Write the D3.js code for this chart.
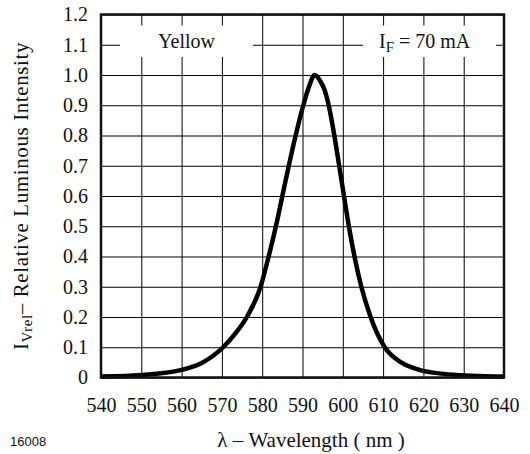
<!DOCTYPE html>
<html>
<head>
<meta charset="utf-8">
<script src="https://cdn.jsdelivr.net/npm/d3@7"></script>
<style>
  body { margin: 0; background: #fff; }
  svg { display: block; }
  .grid line { stroke: #000; stroke-width: 1; }
  .grid .domain { display: none; }
</style>
</head>
<body>
<div id="chart"></div>
<script>
// values
const wavelengths = [540, 550, 560, 565, 570.3, 573.6, 576.2, 579.6, 581.6, 583.4, 585.0, 586.6, 588.3, 590.2, 591.7, 593, 594.4, 595.5, 596.5, 597.9, 599.1, 600.3, 601.5, 602.9, 604.6, 606.9, 610.4, 614.5, 619, 625, 632, 640];
const intensity   = [0.003, 0.008, 0.025, 0.048, 0.10, 0.15, 0.20, 0.30, 0.40, 0.50, 0.60, 0.70, 0.80, 0.90, 0.965, 1.0, 0.98, 0.95, 0.90, 0.80, 0.70, 0.60, 0.50, 0.40, 0.30, 0.20, 0.10, 0.05, 0.025, 0.012, 0.006, 0.003];
const xTicks = [540, 550, 560, 570, 580, 590, 600, 610, 620, 630, 640];
const yTicks = [0, 0.1, 0.2, 0.3, 0.4, 0.5, 0.6, 0.7, 0.8, 0.9, 1.0, 1.1, 1.2];

const serif = "Liberation Serif, Times New Roman, serif";

let width = 530,
    height = 454,
    margin = ({ top: 14.5, right: 26, bottom: 76.5, left: 101 });

const svg = d3.select("#chart")
  .append("svg")
  .attr("width", width)
  .attr("height", height)
  .attr("font-family", serif);

let x = d3.scaleLinear()
  .domain([540, 640])
  .range([margin.left, width - margin.right]);

let y = d3.scaleLinear()
  .domain([0, 1.2])
  .range([height - margin.bottom, margin.top]);

const plotW = x.range()[1] - x.range()[0],
      plotH = y.range()[0] - y.range()[1];

// grid lines drawn as long negative ticks
const gx = svg.append("g")
  .attr("class", "grid")
  .attr("transform", `translate(0,${y(0)})`)
  .call(d3.axisBottom(x).tickValues(xTicks).tickFormat(d3.format("d"))
    .tickSize(-plotH).tickPadding(20));

const gy = svg.append("g")
  .attr("class", "grid")
  .attr("transform", `translate(${x(540)},0)`)
  .call(d3.axisLeft(y).tickValues(yTicks)
    .tickFormat(d => d === 0 ? "0" : d3.format(".1f")(d))
    .tickSize(-plotW).tickPadding(13));

// d3 puts sans-serif on the axis group, swap it for the serif face
[gx, gy].forEach(g => {
  g.attr("font-family", serif).attr("font-size", 20);
  g.selectAll("text").attr("fill", "#111");
});

// white boxes behind the two labels in the top row
const boxes = [
  { x0: 120, x1: 253 },
  { x0: 363, x1: 496 }
];
svg.append("g")
  .selectAll("rect")
  .data(boxes)
  .join("rect")
  .attr("x", d => d.x0)
  .attr("y", 25.5)
  .attr("width", d => d.x1 - d.x0)
  .attr("height", 31.5)
  .attr("fill", "#fff");

svg.append("text")
  .attr("x", 186.5)
  .attr("y", 48)
  .attr("text-anchor", "middle")
  .attr("font-size", 20)
  .attr("fill", "#111")
  .text("Yellow");

const cond = svg.append("text")
  .attr("x", 379)
  .attr("y", 48)
  .attr("font-size", 20)
  .attr("fill", "#111");
cond.append("tspan").text("I");
cond.append("tspan").attr("font-size", 15).attr("dy", 4).text("F");
cond.append("tspan").attr("dy", -4).text(" = 70 mA");

// spectrum curve
const pts = wavelengths.map((w, i) => [w, intensity[i]]);
svg.append("path")
  .datum(pts)
  .attr("fill", "none")
  .attr("stroke", "#000")
  .attr("stroke-width", 4.5)
  .attr("stroke-linejoin", "round")
  .attr("d", d3.line()
    .x(d => x(d[0]))
    .y(d => y(d[1]))
    .curve(d3.curveMonotoneX));

// plot frame
svg.append("rect")
  .attr("x", x(540))
  .attr("y", y(1.2))
  .attr("width", plotW)
  .attr("height", plotH)
  .attr("fill", "none")
  .attr("stroke", "#111")
  .attr("stroke-width", 2.5);

// axis titles
svg.append("text")
  .attr("x", 311)
  .attr("y", 447)
  .attr("text-anchor", "middle")
  .attr("font-size", 21)
  .attr("fill", "#111")
  .text("\u03bb \u2013 Wavelength ( nm )");

const yt = svg.append("text")
  .attr("transform", `translate(28,${(y(0) + y(1.2)) / 2}) rotate(-90)`)
  .attr("text-anchor", "middle")
  .attr("font-size", 21)
  .attr("letter-spacing", 0.6)
  .attr("fill", "#111");
yt.append("tspan").text("I");
yt.append("tspan").attr("font-size", 15).attr("dy", 4).text("Vrel");
yt.append("tspan").attr("dy", -4).text("\u2013 Relative Luminous Intensity");

svg.append("text")
  .attr("x", 10)
  .attr("y", 446)
  .attr("font-family", "Liberation Sans, Arial, sans-serif")
  .attr("font-size", 13)
  .attr("fill", "#111")
  .text("16008");
</script>
</body>
</html>
